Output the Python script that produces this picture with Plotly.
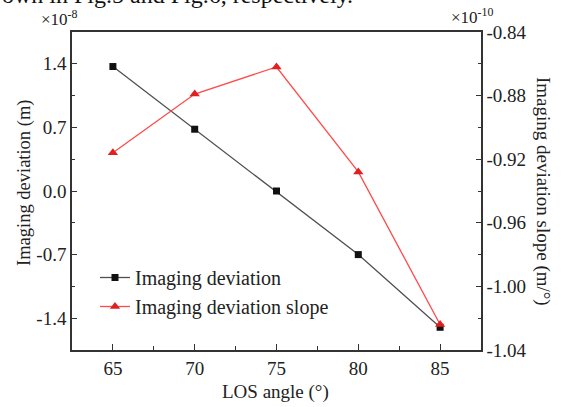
import plotly.graph_objects as go

angles = [65, 70, 75, 80, 85]
deviation = [1.37, 0.68, 0.0, -0.70, -1.50]          # x1e-8 m
slope = [-0.916, -0.879, -0.862, -0.928, -1.024]      # x1e-10 m/deg
left_ticks = [-1.4, -0.7, 0.0, 0.7, 1.4]
right_ticks = [-1.04, -1.00, -0.96, -0.92, -0.88, -0.84]

FONT = "Liberation Serif"
W, H = 561, 407
L, R, T, B = 72, 80, 32, 57
PH = H - T - B

fig = go.Figure()
fig.add_trace(go.Scatter(
    x=angles, y=deviation, name="Imaging deviation", mode="lines+markers",
    line=dict(color="#505050", width=1.3),
    marker=dict(symbol="square", size=7, color="#111111"),
))
fig.add_trace(go.Scatter(
    x=angles, y=slope, name="Imaging deviation slope", mode="lines+markers",
    yaxis="y2",
    line=dict(color="#ff4a4a", width=1.3),
    marker=dict(symbol="triangle-up", size=9, color="#e02020"),
))

axcol = "#333333"
tickfont = dict(family=FONT, size=19, color="#222222")

fig.update_layout(
    width=W, height=H,
    margin=dict(l=L, r=R, t=T, b=B),
    paper_bgcolor="white", plot_bgcolor="white",
    font=dict(family=FONT, color="#222222"),
    xaxis=dict(
        range=[62.5, 87.5], tickvals=angles, ticktext=[str(a) for a in angles],
        ticks="inside", ticklen=6, tickwidth=1.2, tickcolor=axcol,
        minor=dict(ticks="inside", ticklen=4, tickwidth=1.2, tickcolor=axcol, dtick=2.5, tick0=62.5),
        showline=True, linecolor=axcol, linewidth=1.5, mirror=True,
        showgrid=False, zeroline=False, tickfont=tickfont,
    ),
    yaxis=dict(
        range=[-1.75, 1.75], tickvals=left_ticks,
        ticktext=["-1.4", "-0.7", "0.0", "0.7", "1.4"],
        ticks="inside", ticklen=5, tickwidth=1.2, tickcolor=axcol,
        minor=dict(ticks="inside", ticklen=3, tickwidth=1.2, tickcolor=axcol, dtick=0.35, tick0=0),
        showline=True, linecolor=axcol, linewidth=1.5,
        showgrid=False, zeroline=False, tickfont=tickfont,
    ),
    yaxis2=dict(
        range=[-1.04, -0.84], overlaying="y", side="right", tickvals=right_ticks,
        ticktext=[f"{v:.2f}" for v in right_ticks],
        ticks="inside", ticklen=5, tickwidth=1.2, tickcolor=axcol,
        minor=dict(ticks="inside", ticklen=3, tickwidth=1.2, tickcolor=axcol, dtick=0.02, tick0=-1.04),
        showline=True, linecolor=axcol, linewidth=1.5,
        showgrid=False, zeroline=False, tickfont=tickfont,
    ),
    showlegend=True,
    legend=dict(
        x=(95 - L) / (W - L - R), y=(H - B - 258) / PH, xanchor="left", yanchor="top",
        bgcolor="rgba(0,0,0,0)", borderwidth=0,
        font=dict(family=FONT, size=20, color="#222222"),
        tracegroupgap=0,
    ),
)

def py(pix):
    return (H - B - pix) / PH

def px(pix):
    return (pix - L) / (W - L - R)

ann = [
    dict(text="LOS angle (°)", x=px(275), y=py(392), xanchor="center", yanchor="middle",
         font=dict(size=19)),
    dict(text="Imaging deviation (m)", x=px(24), y=py(183), textangle=-90,
         xanchor="center", yanchor="middle", font=dict(size=18.5)),
    dict(text="Imaging deviation slope (m/°)", x=px(543), y=py(191), textangle=90,
         xanchor="center", yanchor="middle", font=dict(size=19)),
    dict(text="×10<sup>-8</sup>", x=px(39), y=py(18), xanchor="left", yanchor="middle",
         font=dict(size=17)),
    dict(text="×10<sup>-10</sup>", x=px(449), y=py(16), xanchor="left", yanchor="middle",
         font=dict(size=17)),
    dict(text="own in Fig.5 and Fig.6, respectively.", x=px(0), y=py(-5), xanchor="left",
         yanchor="middle", font=dict(size=24, color="#111111")),
]
for a in ann:
    a.update(xref="paper", yref="paper", showarrow=False)
    a.setdefault("font", {})
    a["font"].setdefault("family", FONT)
    a["font"].setdefault("color", "#222222")
fig.update_layout(annotations=ann)

fig.write_html("out.html")
